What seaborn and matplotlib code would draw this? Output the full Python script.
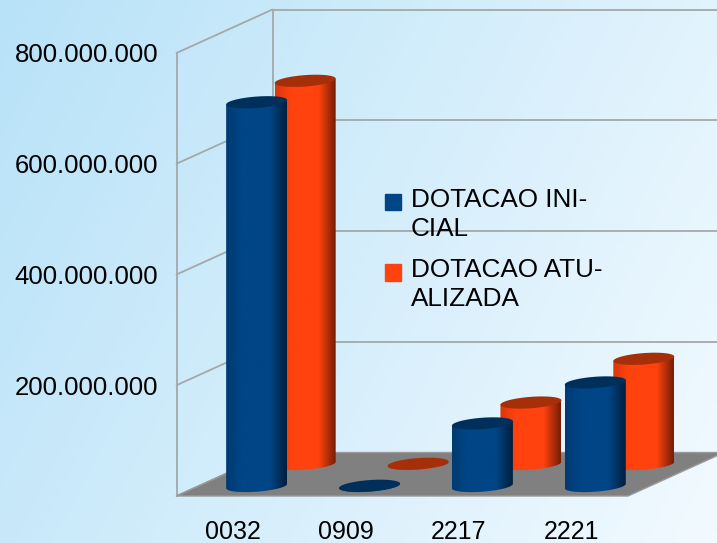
import numpy as np
import pandas as pd
import matplotlib
matplotlib.use('Agg')
import matplotlib.pyplot as plt
from matplotlib.colors import LinearSegmentedColormap, to_rgb
from matplotlib.legend_handler import HandlerPatch
from matplotlib.patches import Patch, Polygon, Rectangle
from matplotlib.ticker import FuncFormatter
import seaborn as sns

categories = ['0032', '0909', '2217', '2221']
dotacao_inicial = [693000000, 400000, 113000000, 187000000]
dotacao_atualizada = [692000000, 400000, 111000000, 190000000]
series_names = ['DOTACAO INI-\nCIAL', 'DOTACAO ATU-\nALIZADA']
y_ticks = [200000000, 400000000, 600000000, 800000000]

W, H = 717, 543
LEFT, RIGHT, TOP, BOTTOM = 176.5, 628, 53, 496
BLUE = '#004586'
ORANGE = '#ff420e'

sns.set_theme(style='white')
plt.rcParams['font.family'] = ['Liberation Sans', 'DejaVu Sans']

df = pd.DataFrame({
    'cat': categories * 2,
    'value': dotacao_inicial + dotacao_atualizada,
    'serie': ['inicial'] * 4 + ['atualizada'] * 4,
})

fig = plt.figure(figsize=(W / 100, H / 100), dpi=100)

# page background, soft diagonal gradient
bg = fig.add_axes([0, 0, 1, 1], zorder=0)
bg.axis('off')
xx, yy = np.meshgrid(np.linspace(0, 1, 200), np.linspace(0, 1, 150))
bg_cmap = LinearSegmentedColormap.from_list('bg', ['#b8e2f8', '#f2faff'])
bg.imshow(0.72 * xx + 0.28 * yy, cmap=bg_cmap, aspect='auto', vmin=0, vmax=1)

ax = fig.add_axes([LEFT / W, 1 - BOTTOM / H, (RIGHT - LEFT) / W, (BOTTOM - TOP) / H], zorder=1)
ax.patch.set_alpha(0)

orange_df = df[df.serie == 'atualizada']
blue_df = df[df.serie == 'inicial']
BAR_W = 61 / 112.9
sns.barplot(data=orange_df, x='cat', y='value', order=categories, color=ORANGE, width=BAR_W, ax=ax, saturation=1)
orange_bars = list(ax.patches)
sns.barplot(data=blue_df, x='cat', y='value', order=categories, color=BLUE, width=BAR_W, ax=ax, saturation=1)
blue_bars = list(ax.patches)[len(orange_bars):]

ax.set_xlim(-0.5, 3.5)
ax.set_ylim(0, 800000000)
ax.set_autoscale_on(False)
ax.set_xlabel('')
ax.set_ylabel('')
ax.set_yticks(y_ticks)
ax.yaxis.set_major_formatter(FuncFormatter(lambda v, p: f'{int(v):,}'.replace(',', '.')))
ax.tick_params(axis='y', length=0, pad=13, labelsize=18.5, labelcolor='black')
ax.tick_params(axis='x', length=0, pad=17, labelsize=18, labelcolor='black')
for s in ax.spines.values():
    s.set_visible(False)

# conversions from screen pixels to data units
PX_X = 4 / (RIGHT - LEFT)
PX_Y = 800000000 / (BOTTOM - TOP)
DEPTH_X = 96 * PX_X
DEPTH_Y = 43.5 * PX_Y
RY = 5.7 * PX_Y
SHEAR = 2.2 * PX_Y
wall = dict(color='#a3a8ab', lw=1.3, clip_on=False, zorder=1)

# side wall, back wall and grid
for v in [0] + y_ticks:
    ax.plot([-0.5, -0.5 + DEPTH_X], [v, v + DEPTH_Y], **wall)
    ax.plot([-0.5 + DEPTH_X, 3.5 + DEPTH_X], [v + DEPTH_Y, v + DEPTH_Y], **wall)
ax.plot([-0.5, -0.5], [0, 800000000], **wall)
ax.plot([-0.5 + DEPTH_X] * 2, [DEPTH_Y, 800000000 + DEPTH_Y], **wall)

# floor
ax.add_patch(Polygon([(-0.5, 0), (-0.5 + DEPTH_X, DEPTH_Y), (3.5 + DEPTH_X, DEPTH_Y), (3.5, 0)],
                     closed=True, fc='#808080', ec='#9a9a9a', lw=1, clip_on=False, zorder=2))


def shade(color):
    # horizontal shading of the cylinder side
    c = np.array(to_rgb(color))
    return LinearSegmentedColormap.from_list('s', [
        (0, c * 0.85), (0.25, c), (0.72, c), (1, c * 0.45)])


def draw_cylinder(bar, color, dark_top, dx, dy, z):
    x0 = bar.get_x() + dx
    x1 = x0 + bar.get_width()
    h = bar.get_height()
    bar.set_visible(False)
    cx = (x0 + x1) / 2
    rx = (x1 - x0) / 2
    t = np.linspace(0, np.pi, 60)
    # lower half of the base, then up the left side to the top
    low = np.column_stack([cx + rx * np.cos(t), dy - RY * np.sin(t) + SHEAR * np.cos(t)])
    outline = np.vstack([low, [x0, dy + h - SHEAR], [x1, dy + h + SHEAR]])
    body = Polygon(outline, closed=True, transform=ax.transData, fc='none', ec='none')
    ax.add_patch(body)
    img = ax.imshow(np.linspace(0, 1, 128).reshape(1, -1), cmap=shade(color), aspect='auto',
                    extent=(x0, x1, dy - RY - SHEAR, dy + h + SHEAR + RY), zorder=z)
    img.set_clip_box(fig.bbox)
    img.set_clip_path(body)
    t = np.linspace(0, 2 * np.pi, 90)
    top = np.column_stack([cx + rx * np.cos(t), dy + h + RY * np.sin(t) + SHEAR * np.cos(t)])
    ax.add_patch(Polygon(top, closed=True, fc=dark_top, ec='none', clip_on=False, zorder=z + 0.1))


for i, bar in enumerate(orange_bars):
    draw_cylinder(bar, ORANGE, '#a52f08', 0.64, 32 * PX_Y, 3 + i * 0.01)
for i, bar in enumerate(blue_bars):
    draw_cylinder(bar, BLUE, '#002f5c', 0.21, 10 * PX_Y, 4 + i * 0.01)


def legend_square(legend, orig_handle, xdescent, ydescent, width, height, fontsize):
    return Rectangle((xdescent, ydescent + 10.5), width, height)


handles = [Patch(color=BLUE), Patch(color=ORANGE)]
leg = ax.legend(handles, series_names, fontsize=18.8, frameon=False, loc='upper left',
                bbox_to_anchor=(385 / W, 1 - 188 / H), bbox_transform=fig.transFigure,
                borderpad=0, borderaxespad=0, handlelength=0.6, handleheight=0.6,
                handletextpad=0.38, labelspacing=0.66, labelcolor='black',
                handler_map={Patch: HandlerPatch(patch_func=legend_square)})
for txt in leg.get_texts():
    txt.set_linespacing(1.27)
leg.set_zorder(6)

ax.set_xlim(-0.5, 3.5)
ax.set_ylim(0, 800000000)
fig.savefig('out.png', dpi=100)
